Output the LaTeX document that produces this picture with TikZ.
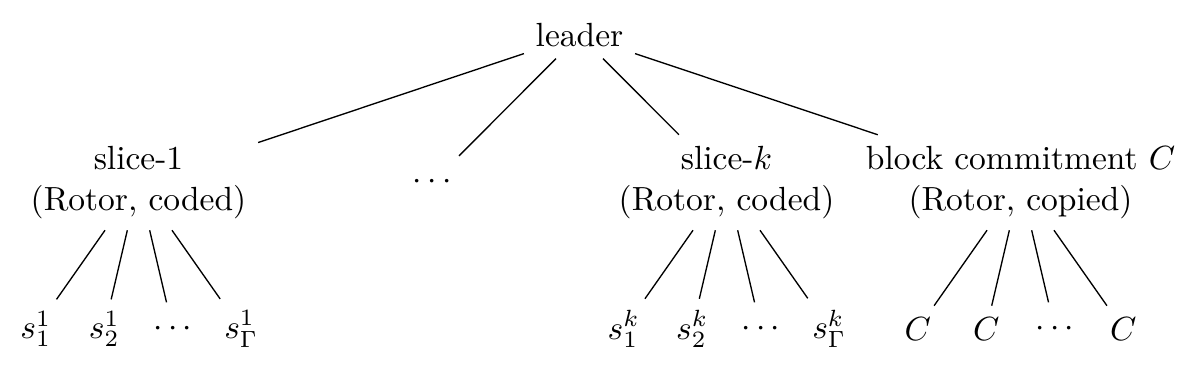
\documentclass[tikz,border=0pt]{standalone}
\begin{document}
\begin{tikzpicture}[x=0.2985pt,y=-0.2985pt,
  tn/.style={inner sep=0.3333em, align=center},
  dotn/.style={inner sep=0.3333em, minimum height=15.5pt},
  edge/.style={draw=black, line width=0.4pt}]
\useasboundingbox (0,0) rectangle (1204,369);
% root
\node[tn] (leader) at (579.5,35) {leader};
% level 1
\node[tn] (sl1) at (138.5,182.5) {slice-1\\(Rotor, coded)};
\node[dotn] (mdots) at (432.5,182.5) {$\cdots$};
\node[tn] (slk) at (726.5,182.5) {slice-$k$\\(Rotor, coded)};
\node[tn] (blk) at (1020.5,182.5) {block commitment $C$\\(Rotor, copied)};
% level 2 under slice-1
\node[tn] (a1) at (35.75,329) {$s^1_1$};
\node[tn] (a2) at (104.25,329) {$s^1_2$};
\node[dotn] (a3) at (172.75,329) {$\cdots$};
\node[tn] (a4) at (241.25,329) {$s^1_\Gamma$};
% level 2 under slice-k
\node[tn] (b1) at (623.75,329) {$s^k_1$};
\node[tn] (b2) at (692.25,329) {$s^k_2$};
\node[dotn] (b3) at (760.75,329) {$\cdots$};
\node[tn] (b4) at (829.25,329) {$s^k_\Gamma$};
% level 2 under block commitment
\node[tn] (c1) at (917.75,329) {$C$};
\node[tn] (c2) at (986.25,329) {$C$};
\node[dotn] (c3) at (1054.75,329) {$\cdots$};
\node[tn] (c4) at (1123.25,329) {$C$};
% edges
\foreach \ch in {sl1,mdots,slk,blk} \draw[edge] (leader) -- (\ch);
\foreach \ch in {a1,a2,a3,a4} \draw[edge] (sl1) -- (\ch);
\foreach \ch in {b1,b2,b3,b4} \draw[edge] (slk) -- (\ch);
\foreach \ch in {c1,c2,c3,c4} \draw[edge] (blk) -- (\ch);
\end{tikzpicture}
\end{document}
